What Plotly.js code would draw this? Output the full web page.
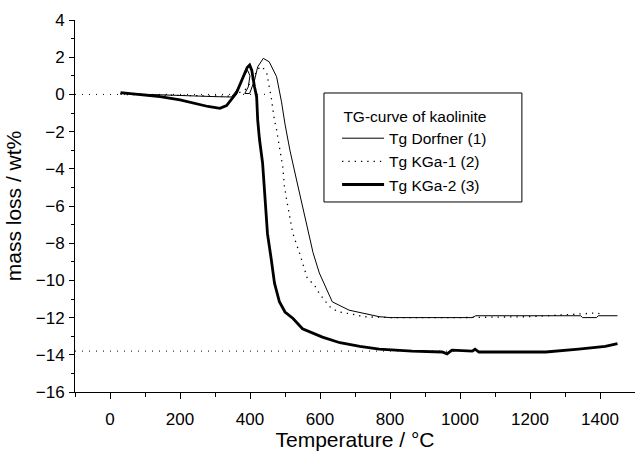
<!DOCTYPE html>
<html>
<head>
<meta charset="utf-8">
<script src="https://cdn.plot.ly/plotly-3.0.1.min.js"></script>
<style>html,body{margin:0;padding:0;background:#fff;}#chart{width:635px;height:451px;}</style>
</head>
<body>
<div id="chart"></div>
<script>
// Tg Dorfner (1)
const tDorfner = [30, 100, 200, 300, 347, 365, 380, 393, 400, 395, 385, 399, 413, 422, 438, 455, 476, 490, 500, 514, 533, 552, 571, 580, 598, 635, 683, 769, 800, 900, 1000, 1035, 1045, 1100, 1200, 1300, 1345, 1350, 1390, 1395, 1450];
const mDorfner = [0.05, 0.0, -0.08, -0.12, -0.14, 0.3, 0.9, 1.3, 1.0, 0.4, 0.05, 0.05, 0.77, 1.48, 1.94, 1.75, 0.95, -0.4, -1.6, -3.0, -4.6, -6.2, -7.8, -8.5, -9.6, -11.15, -11.6, -11.95, -12.0, -12.0, -12.0, -12.0, -11.9, -11.9, -11.9, -11.9, -11.9, -12.0, -12.0, -11.9, -11.9];
// Tg KGa-1 (2)
const tKGa1 = [30, 200, 350, 390, 409, 425, 435, 448, 461, 470, 476, 482, 490, 494, 498, 505, 513, 522, 541, 550, 564, 584, 598, 612, 632, 655, 703, 721, 800, 1000, 1200, 1345, 1390, 1400];
const mKGa1 = [0.0, -0.05, -0.1, 0.3, 0.94, 1.4, 1.5, 1.13, -0.2, -1.4, -1.9, -2.7, -3.5, -3.95, -4.9, -5.7, -6.55, -7.45, -8.5, -9.0, -9.9, -10.25, -10.7, -11.05, -11.5, -11.7, -11.85, -11.95, -12.0, -12.0, -11.95, -11.8, -11.75, -11.8];
// Tg KGa-2 (3)
const tKGa2 = [30, 100, 143, 200, 238, 280, 314, 333, 361, 379, 392, 399, 405, 413, 419, 422, 427, 436, 441, 447, 450, 461, 470, 484, 500, 523, 550, 607, 657, 714, 769, 863, 949, 963, 977, 1035, 1043, 1054, 1150, 1245, 1339, 1415, 1450];
const mKGa2 = [0.1, -0.05, -0.12, -0.3, -0.47, -0.65, -0.75, -0.6, 0.07, 0.88, 1.45, 1.58, 1.3, 0.4, -0.14, -1.38, -2.4, -3.7, -5.0, -6.4, -7.5, -8.9, -10.15, -11.15, -11.7, -12.05, -12.6, -13.05, -13.35, -13.55, -13.7, -13.8, -13.85, -13.95, -13.75, -13.8, -13.7, -13.85, -13.85, -13.85, -13.7, -13.55, -13.4];
// dotted reference lines
const refZeroT = [-100, 447];
const refZeroM = [0, 0];
const refLowT = [-100, 1000];
const refLowM = [-13.8, -13.8];

const FONT = 'Arial, "Liberation Sans", sans-serif';

const traces = [
  {x: refZeroT, y: refZeroM, mode: 'lines', line: {color: '#000', width: 1, dash: '1px,6px'}, showlegend: false, hoverinfo: 'skip'},
  {x: refLowT, y: refLowM, mode: 'lines', line: {color: '#000', width: 1, dash: '1px,6px'}, showlegend: false, hoverinfo: 'skip'},
  {x: tDorfner, y: mDorfner, mode: 'lines', name: 'Tg Dorfner (1)', line: {color: '#000', width: 1}},
  {x: tKGa1, y: mKGa1, mode: 'lines', name: 'Tg KGa-1 (2)', line: {color: '#000', width: 1.3, dash: '1.3px,5px'}},
  {x: tKGa2, y: mKGa2, mode: 'lines', name: 'Tg KGa-2 (3)', line: {color: '#000', width: 2.8}}
];

const layout = {
  width: 635, height: 451,
  margin: {l: 75, r: 0, t: 20, b: 59},
  paper_bgcolor: '#fff', plot_bgcolor: '#fff',
  font: {family: FONT, color: '#000', size: 17},
  showlegend: true,
  shapes: [
    {type: 'rect', xref: 'paper', yref: 'paper', x0: 0.4446, x1: 0.798, y0: 0.5108, y1: 0.8038,
     line: {color: '#000', width: 1}, fillcolor: '#fff', layer: 'below'}
  ],
  legend: {
    x: 0.468, y: 0.781, xanchor: 'left', yanchor: 'top',
    borderwidth: 0, bgcolor: 'rgba(0,0,0,0)',
    itemwidth: 42,
    font: {family: FONT, size: 15.5, color: '#000'},
    title: {text: '&nbsp;TG-curve of kaolinite', font: {family: FONT, size: 15.5, color: '#000'}},
    tracegroupgap: 0
  },
  xaxis: {
    range: [-100, 1500], tick0: 0, dtick: 200, automargin: false,
    showgrid: false, zeroline: false, showline: true, linecolor: '#000', linewidth: 1,
    ticks: 'outside', ticklen: 6, tickcolor: '#000', ticklabelstandoff: 6,
    minor: {dtick: 100, tick0: 0, ticks: 'outside', ticklen: 4, tickcolor: '#000', showgrid: false},
    tickfont: {family: FONT, size: 17},
    title: {text: 'Temperature / °C', font: {family: FONT, size: 21}, standoff: 15}
  },
  yaxis: {
    range: [-16, 4], tick0: 0, dtick: 2, automargin: false,
    showgrid: false, zeroline: false, showline: true, linecolor: '#000', linewidth: 1,
    ticks: 'outside', ticklen: 5, tickcolor: '#000', ticklabelstandoff: 1,
    minor: {dtick: 1, tick0: 0, ticks: 'outside', ticklen: 3, tickcolor: '#000', showgrid: false},
    tickfont: {family: FONT, size: 17},
    title: {text: 'mass loss / wt%', font: {family: FONT, size: 21}, standoff: 8}
  }
};

Plotly.newPlot('chart', traces, layout, {staticPlot: true, displayModeBar: false});
</script>
</body>
</html>
